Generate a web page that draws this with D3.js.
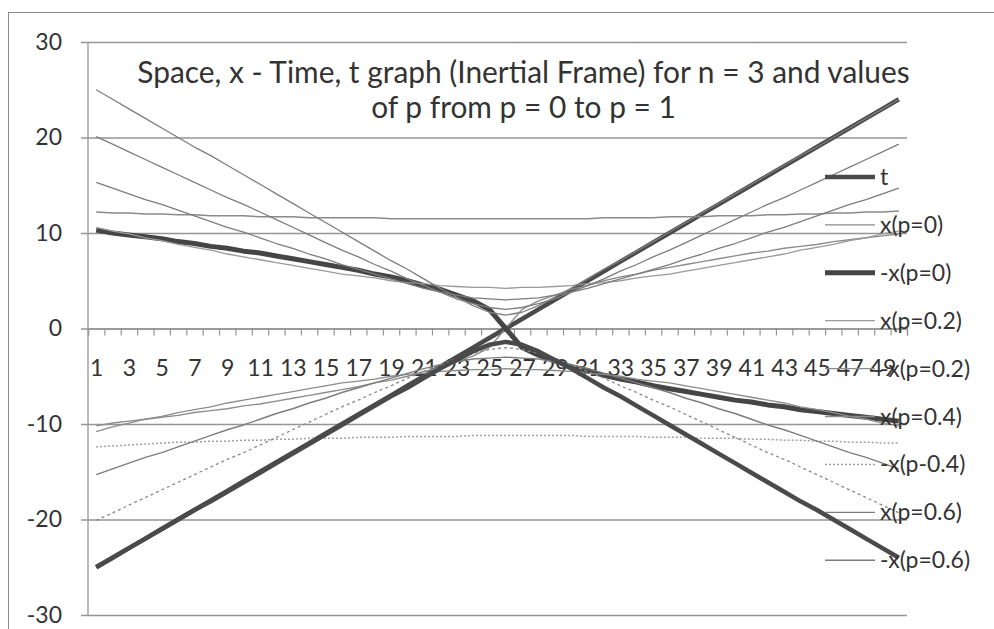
<!DOCTYPE html>
<html>
<head>
<meta charset="utf-8">
<script src="https://cdn.jsdelivr.net/npm/d3@7"></script>
<style>
  body { margin: 0; background: #fff; }
  svg { display: block; }
</style>
</head>
<body>
<svg id="chart" width="994" height="629"></svg>
<script>
// categories (1..50) and the values of every series
const categories = [1,2,3,4,5,6,7,8,9,10,11,12,13,14,15,16,17,18,19,20,21,22,23,24,25,
  26,27,28,29,30,31,32,33,34,35,36,37,38,39,40,41,42,43,44,45,46,47,48,49,50];
const xTickLabels = [1,3,5,7,9,11,13,15,17,19,21,23,25,27,29,31,33,35,37,39,41,43,45,47,49];
const yTicks = [-30,-20,-10,0,10,20,30];

const tVals = [-25,-24,-23,-22,-21,-20,-19,-18,-17,-16,-15,-14,-13,-12,-11,-10,-9,-8,-7,-6,-5,-4,-3,-2,-1,
  0,1,2,3,4,5,6,7,8,9,10,11,12,13,14,15,16,17,18,19,20,21,22,23,24];
const xP0 = [-10.2,-9.9,-9.7,-9.5,-9.3,-9.1,-8.8,-8.6,-8.4,-8.1,-7.9,-7.6,-7.3,-7.0,-6.7,-6.4,-6.1,-5.7,-5.4,-5.0,-4.5,-4.1,-3.5,-2.9,-2.0,
  0,2.0,2.9,3.5,4.1,4.5,5.0,5.4,5.7,6.1,6.4,6.7,7.0,7.3,7.6,7.9,8.1,8.4,8.6,8.8,9.1,9.3,9.5,9.7,9.9];
const negXP0 = [10.3,10.0,9.8,9.6,9.4,9.1,8.9,8.6,8.4,8.1,7.9,7.6,7.3,7.0,6.7,6.4,6.1,5.7,5.4,5.0,4.5,4.1,3.5,2.9,2.0,
  0,-2.0,-2.8,-3.4,-4.0,-4.4,-4.9,-5.3,-5.6,-6.0,-6.3,-6.6,-6.9,-7.2,-7.5,-7.7,-8.0,-8.2,-8.5,-8.7,-8.9,-9.1,-9.3,-9.5,-9.7];
const xP02 = [10.6,10.2,9.9,9.5,9.2,8.8,8.5,8.2,7.8,7.5,7.2,6.9,6.6,6.3,6.0,5.7,5.5,5.3,5.0,4.8,4.7,4.5,4.4,4.3,4.3,
  4.2,4.3,4.3,4.4,4.5,4.7,4.8,5.0,5.3,5.5,5.7,6.0,6.3,6.6,6.9,7.2,7.5,7.8,8.2,8.5,8.8,9.2,9.5,9.9,10.2];
const negXP02 = [-10.8,-10.3,-9.9,-9.5,-9.2,-8.8,-8.5,-8.2,-7.8,-7.5,-7.2,-6.9,-6.6,-6.3,-6.0,-5.7,-5.5,-5.3,-5.0,-4.8,-4.7,-4.5,-4.4,-4.3,-4.3,
  -4.2,-4.3,-4.3,-4.4,-4.5,-4.7,-4.8,-5.0,-5.3,-5.5,-5.7,-6.0,-6.3,-6.6,-6.9,-7.2,-7.5,-7.8,-8.2,-8.5,-8.8,-9.2,-9.5,-9.9,-10.2];
const xP04 = [12.2,12.1,12.1,12.0,12.0,11.9,11.9,11.8,11.8,11.8,11.7,11.7,11.7,11.6,11.6,11.6,11.6,11.6,11.5,11.5,11.5,11.5,11.5,11.5,11.5,
  11.5,11.5,11.5,11.5,11.5,11.5,11.6,11.6,11.6,11.6,11.7,11.7,11.7,11.8,11.8,11.8,11.9,11.9,12.0,12.0,12.1,12.1,12.2,12.2,12.3];
const negXP04 = [-12.4,-12.3,-12.2,-12.1,-12.0,-11.9,-11.9,-11.8,-11.8,-11.7,-11.7,-11.6,-11.6,-11.5,-11.5,-11.5,-11.4,-11.4,-11.4,-11.3,-11.3,-11.3,-11.3,-11.2,-11.2,
  -11.2,-11.2,-11.2,-11.2,-11.2,-11.3,-11.3,-11.3,-11.3,-11.4,-11.4,-11.4,-11.5,-11.5,-11.5,-11.6,-11.6,-11.7,-11.7,-11.8,-11.8,-11.9,-11.9,-12.0,-12.0];
const xP06 = [15.3,14.7,14.1,13.5,13.0,12.4,11.8,11.2,10.6,10.1,9.5,8.9,8.4,7.8,7.3,6.7,6.2,5.7,5.2,4.7,4.2,3.8,3.5,3.2,3.1,
  3.0,3.1,3.2,3.5,3.8,4.2,4.7,5.2,5.7,6.2,6.7,7.3,7.8,8.4,8.9,9.5,10.1,10.6,11.2,11.8,12.4,13.0,13.5,14.1,14.7];
const negXP06 = [-15.3,-14.7,-14.1,-13.5,-13.0,-12.4,-11.8,-11.2,-10.6,-10.1,-9.5,-8.9,-8.4,-7.8,-7.3,-6.7,-6.2,-5.7,-5.2,-4.7,-4.2,-3.8,-3.5,-3.2,-3.1,
  -3.0,-3.1,-3.2,-3.5,-3.8,-4.2,-4.7,-5.2,-5.7,-6.2,-6.7,-7.3,-7.8,-8.4,-8.9,-9.5,-10.1,-10.6,-11.2,-11.8,-12.4,-13.0,-13.5,-14.1,-14.7];
const xP08 = [20.1,19.3,18.5,17.7,16.9,16.1,15.3,14.5,13.7,13.0,12.2,11.4,10.6,9.8,9.0,8.2,7.5,6.7,6.0,5.2,4.5,3.8,3.1,2.6,2.2,
  2.0,2.2,2.6,3.1,3.8,4.5,5.2,6.0,6.7,7.5,8.2,9.0,9.8,10.6,11.4,12.2,13.0,13.7,14.5,15.3,16.1,16.9,17.7,18.5,19.3];
const negXP08 = [-20.1,-19.3,-18.5,-17.7,-16.9,-16.1,-15.3,-14.5,-13.7,-13.0,-12.2,-11.4,-10.6,-9.8,-9.0,-8.2,-7.5,-6.7,-6.0,-5.2,-4.5,-3.8,-3.1,-2.6,-2.2,
  -2.0,-2.2,-2.6,-3.1,-3.8,-4.5,-5.2,-6.0,-6.7,-7.5,-8.2,-9.0,-9.8,-10.6,-11.4,-12.2,-13.0,-13.7,-14.5,-15.3,-16.1,-16.9,-17.7,-18.5,-19.3];
const xP1 = [25.0,24.0,23.0,22.0,21.0,20.0,19.0,18.1,17.1,16.1,15.1,14.1,13.1,12.1,11.1,10.1,9.1,8.1,7.1,6.2,5.2,4.2,3.3,2.4,1.7,
  1.4,1.7,2.4,3.3,4.2,5.2,6.2,7.1,8.1,9.1,10.1,11.1,12.1,13.1,14.1,15.1,16.1,17.1,18.1,19.0,20.0,21.0,22.0,23.0,24.0];
const negXP1 = [-25.0,-24.0,-23.0,-22.0,-21.0,-20.0,-19.0,-18.1,-17.1,-16.1,-15.1,-14.1,-13.1,-12.1,-11.1,-10.1,-9.1,-8.1,-7.1,-6.2,-5.2,-4.2,-3.3,-2.4,-1.7,
  -1.4,-1.7,-2.4,-3.3,-4.2,-5.2,-6.2,-7.1,-8.1,-9.1,-10.1,-11.1,-12.1,-13.1,-14.1,-15.1,-16.1,-17.1,-18.1,-19.0,-20.0,-21.0,-22.0,-23.0,-24.0];

const seriesNames = ["t","x(p=0)","-x(p=0)","x(p=0.2)","-x(p=0.2)","x(p=0.4)","-x(p-0.4)",
  "x(p=0.6)","-x(p=0.6)","x(p=0.8)","-x(p=0.8)","x(p=1)","-x(p=1)"];
const seriesValues = [tVals, xP0, negXP0, xP02, negXP02, xP04, negXP04,
  xP06, negXP06, xP08, negXP08, xP1, negXP1];
const legendCount = 9; // the rest of the legend is cut off in the original

// look of each series
const seriesStyle = [
  {color: "#4a4a4a", width: 4.5, dash: null},
  {color: "#8c8c8c", width: 1.4, dash: null},
  {color: "#454545", width: 5,   dash: null},
  {color: "#9a9a9a", width: 1.3, dash: null},
  {color: "#8c8c8c", width: 1.3, dash: null},
  {color: "#8a8a8a", width: 1.5, dash: null},
  {color: "#a0a0a0", width: 1.5, dash: "2,2"},
  {color: "#7d7d7d", width: 1.3, dash: null},
  {color: "#7d7d7d", width: 1.4, dash: null},
  {color: "#7d7d7d", width: 1.3, dash: null},
  {color: "#8a8a8a", width: 1.3, dash: "3,3"},
  {color: "#7d7d7d", width: 1.3, dash: null},
  {color: "#4a4a4a", width: 4.5, dash: null}
];

const fontFamily = "Lato, 'Open Sans', sans-serif";
const labelSize = "23px";
const textColor = "#333";
const gridColor = "#959595";

const plot = {left: 88, right: 907, top: 42, bottom: 615};

const svg = d3.select("#chart");

// chart area border
svg.append("rect")
  .attr("x", 8.5).attr("y", 12.5)
  .attr("width", 1000).attr("height", 700)
  .attr("fill", "#fff")
  .attr("stroke", "#8a8a8a").attr("stroke-width", 1);

const yscale = d3.scaleLinear().domain([-30, 30]).range([plot.bottom, plot.top]);
const xscale = d3.scalePoint().domain(categories).range([plot.left, plot.right]).padding(0.5);
const xedge = d3.scaleLinear().domain([0, categories.length]).range([plot.left, plot.right]);

// horizontal gridlines + y labels
const yaxis = d3.axisLeft(yscale)
  .tickValues(yTicks)
  .tickSize(-(plot.right - plot.left))
  .tickPadding(26)
  .tickFormat(d => d);
const yg = svg.append("g")
  .attr("transform", `translate(${plot.left},0)`)
  .call(yaxis);
yg.select(".domain").remove();
yg.selectAll(".tick line")
  .attr("x1", -7)
  .attr("stroke", gridColor).attr("stroke-width", 1.3);
yg.selectAll(".tick text")
  .attr("fill", textColor)
  .style("font-family", fontFamily).style("font-size", labelSize);

// vertical axis line
svg.append("line")
  .attr("x1", plot.left).attr("x2", plot.left)
  .attr("y1", plot.top).attr("y2", plot.bottom)
  .attr("stroke", gridColor).attr("stroke-width", 1.3);

// horizontal axis at 0 with ticks between categories
const xaxisTicks = d3.axisBottom(xedge)
  .tickValues(d3.range(0, categories.length + 1))
  .tickSize(7)
  .tickFormat("");
const xg = svg.append("g")
  .attr("transform", `translate(0,${yscale(0)})`)
  .call(xaxisTicks);
xg.select(".domain").attr("stroke", gridColor).attr("stroke-width", 1.3);
xg.selectAll(".tick line").attr("stroke", gridColor).attr("stroke-width", 1.2);

const xaxisLabels = d3.axisBottom(xscale)
  .tickValues(xTickLabels)
  .tickSize(0)
  .tickPadding(31);
const xl = svg.append("g")
  .attr("transform", `translate(0,${yscale(0)})`)
  .call(xaxisLabels);
xl.select(".domain").remove();
xl.selectAll(".tick text")
  .attr("fill", textColor)
  .style("font-family", fontFamily).style("font-size", labelSize);

// series lines
const line = d3.line()
  .x((d, i) => xscale(categories[i]))
  .y(d => yscale(d));

svg.append("g").selectAll("path")
  .data(seriesValues)
  .join("path")
  .attr("d", d => line(d))
  .attr("fill", "none")
  .attr("stroke", (d, i) => seriesStyle[i].color)
  .attr("stroke-width", (d, i) => seriesStyle[i].width)
  .attr("stroke-dasharray", (d, i) => seriesStyle[i].dash)
  .attr("stroke-linejoin", "round");

// title
const titleLines = ["Space, x - Time, t graph (Inertial Frame) for n = 3 and values",
  "of p from p = 0 to p = 1"];
const title = svg.append("g");
const t1 = title.append("text")
  .attr("x", 523.5).attr("y", 83)
  .attr("text-anchor", "middle")
  .attr("fill", textColor)
  .style("font-family", fontFamily).style("font-size", "26px")
  .text(titleLines[0]);
const w = t1.node().getComputedTextLength();
const titleSize = 26 * 773 / w;
t1.style("font-size", titleSize + "px");
title.append("text")
  .attr("x", 523.5).attr("y", 118)
  .attr("text-anchor", "middle")
  .attr("fill", textColor)
  .style("font-family", fontFamily).style("font-size", titleSize + "px")
  .text(titleLines[1]);

// legend
const legend = svg.append("g");
const legendItems = legend.selectAll("g")
  .data(seriesNames.slice(0, legendCount))
  .join("g")
  .attr("transform", (d, i) => `translate(825,${177 + i * 47.9})`);
legendItems.append("line")
  .attr("x1", 0).attr("x2", 50)
  .attr("stroke", (d, i) => seriesStyle[i].color)
  .attr("stroke-width", (d, i) => seriesStyle[i].width)
  .attr("stroke-dasharray", (d, i) => seriesStyle[i].dash);
legendItems.append("text")
  .attr("x", 55).attr("dy", "0.35em")
  .attr("fill", textColor)
  .style("font-family", fontFamily).style("font-size", labelSize)
  .text(d => d);
</script>
</body>
</html>
